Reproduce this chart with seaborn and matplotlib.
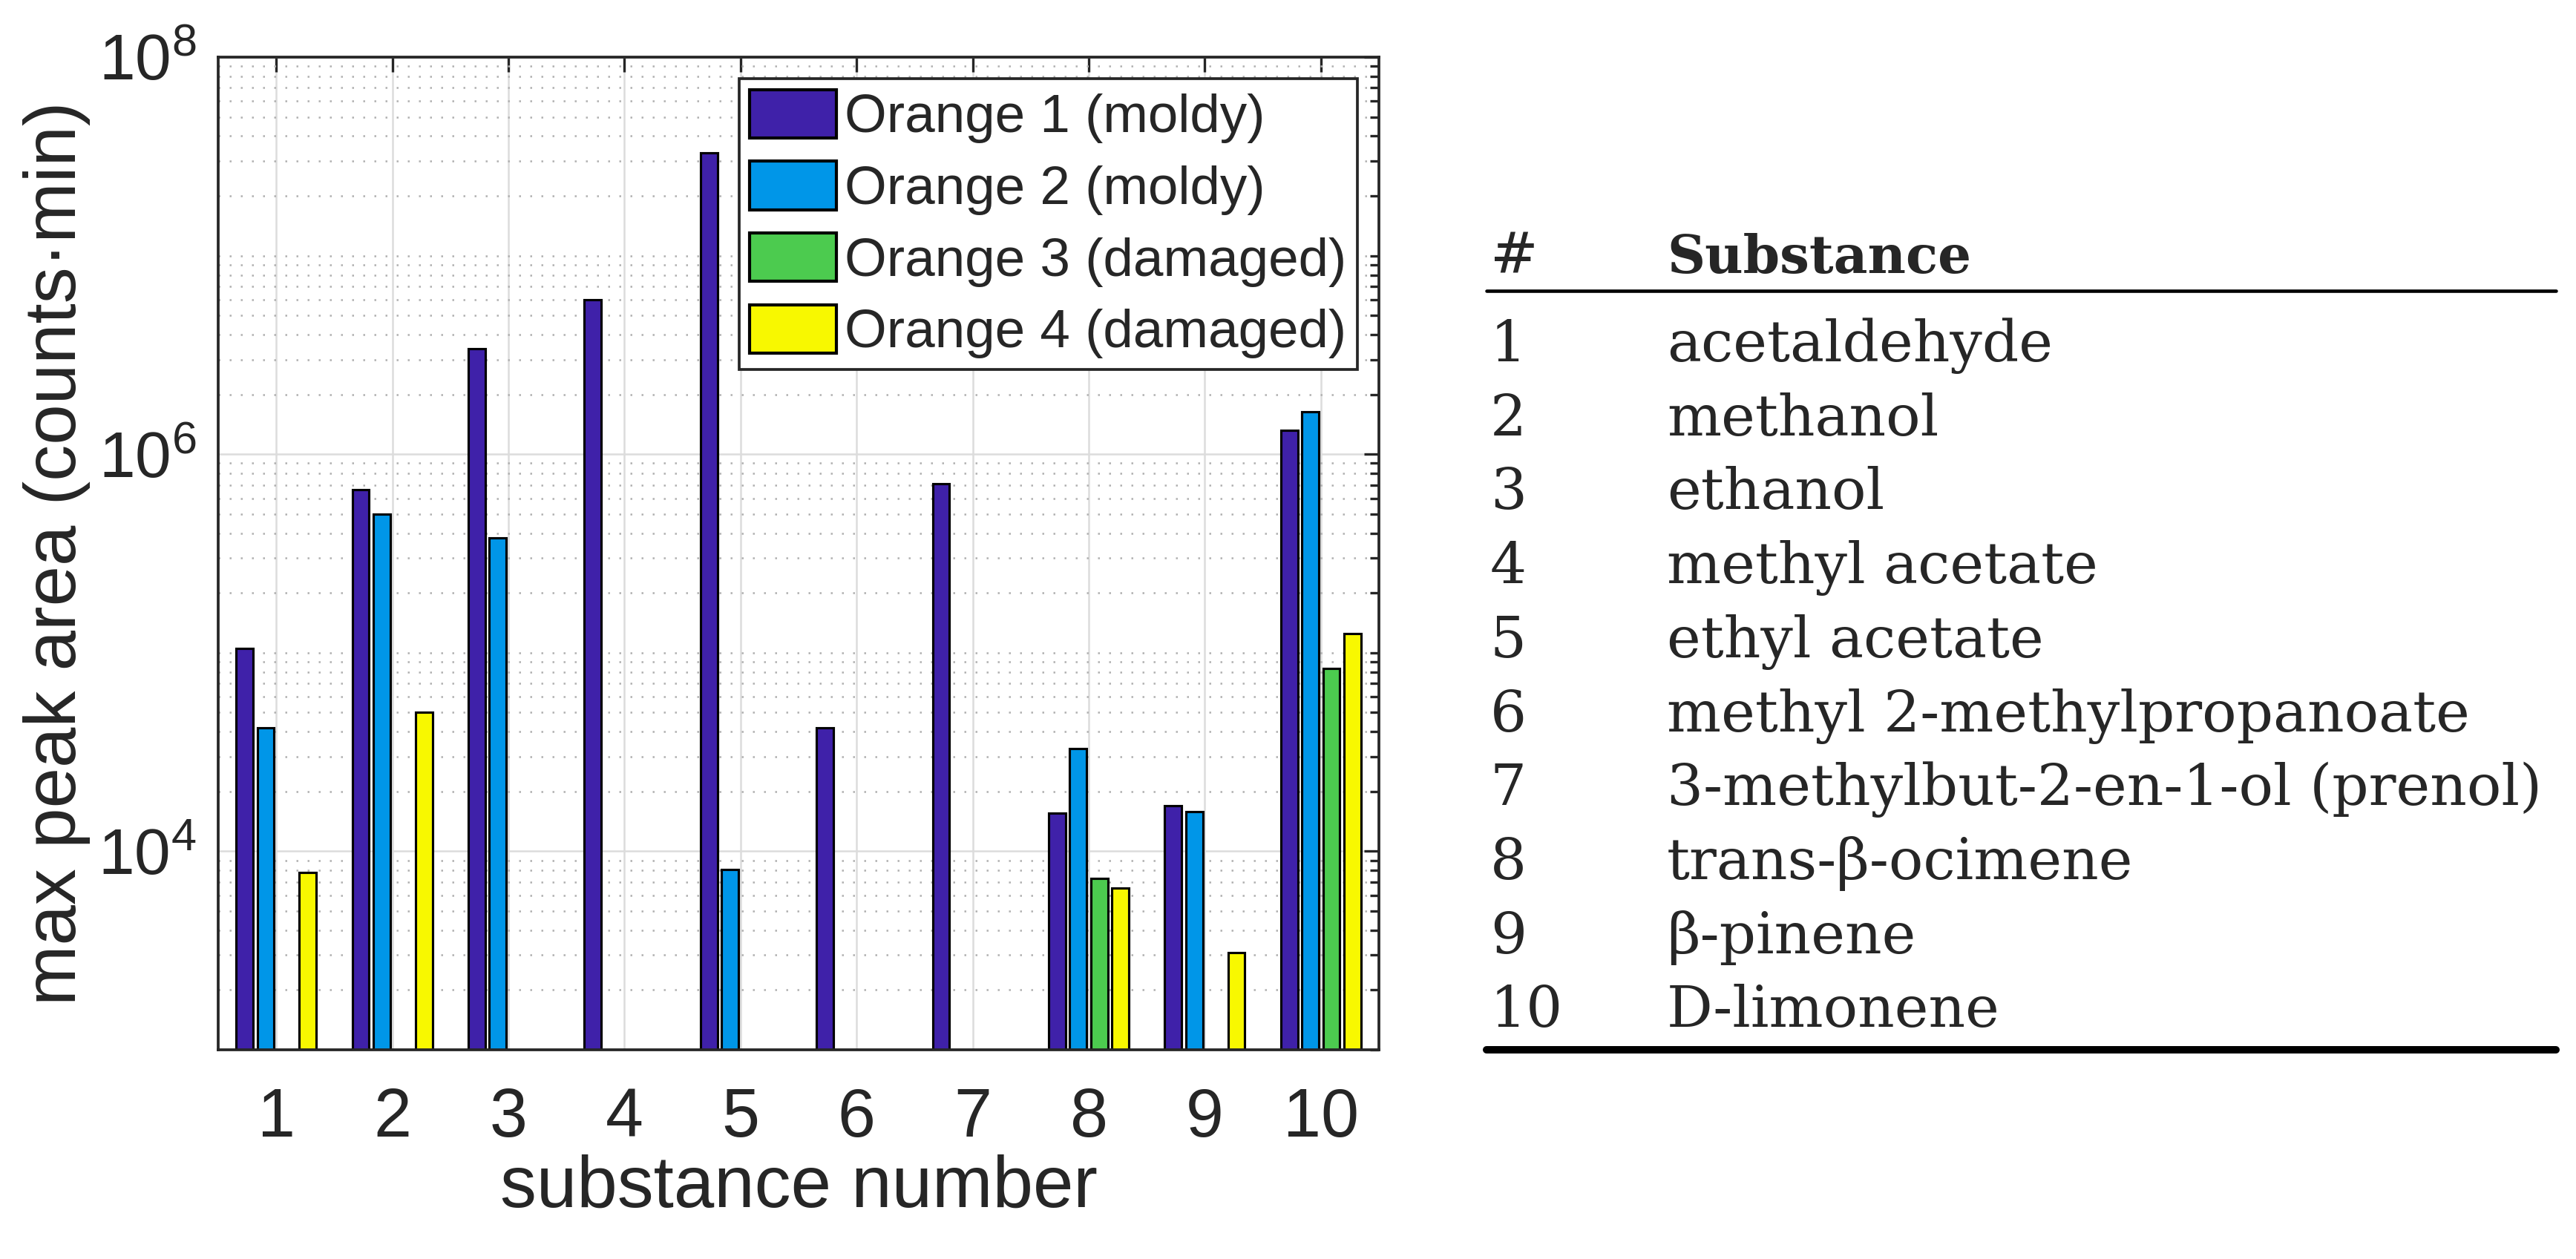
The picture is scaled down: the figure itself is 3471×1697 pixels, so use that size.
import numpy as np
import pandas as pd
import seaborn as sns
import matplotlib
matplotlib.use("Agg")
import matplotlib.pyplot as plt
from matplotlib.patches import Patch
from matplotlib.lines import Line2D
from matplotlib.ticker import FixedLocator, LogLocator, NullFormatter

# data
substance_numbers = ["1", "2", "3", "4", "5", "6", "7", "8", "9", "10"]
samples = ["Orange 1 (moldy)", "Orange 2 (moldy)",
           "Orange 3 (damaged)", "Orange 4 (damaged)"]
nan = np.nan
orange1 = [1.05e5, 6.6e5, 3.4e6, 6.0e6, 3.3e7, 4.2e4, 7.1e5, 1.55e4, 1.7e4, 1.32e6]
orange2 = [4.2e4, 5.0e5, 3.8e5, nan, 8.1e3, nan, nan, 3.3e4, 1.58e4, 1.63e6]
orange3 = [nan, nan, nan, nan, nan, nan, nan, 7.3e3, nan, 8.3e4]
orange4 = [7.8e3, 5.0e4, nan, nan, nan, nan, nan, 6.5e3, 3.1e3, 1.25e5]
substance_names = ["acetaldehyde", "methanol", "ethanol", "methyl acetate",
                   "ethyl acetate", "methyl 2-methylpropanoate",
                   "3-methylbut-2-en-1-ol (prenol)", "trans-\u03b2-ocimene",
                   "\u03b2-pinene", "D-limonene"]
bar_colors = ["#3F21A9", "#0096E8", "#4CCB4F", "#F8F800"]

rows = []
for name, vals in zip(samples, [orange1, orange2, orange3, orange4]):
    for sub, v in zip(substance_numbers, vals):
        rows.append({"substance": sub, "sample": name, "value": v})
df = pd.DataFrame(rows)

sns.set_theme(style="white")
plt.rcParams['font.family'] = ['Liberation Sans', 'DejaVu Sans']
plt.rcParams['mathtext.fontset'] = 'custom'
plt.rcParams['mathtext.rm'] = 'Liberation Sans'

W, H = 3471, 1697
fig = plt.figure(figsize=(W / 300, H / 300), dpi=300)
ax = fig.add_axes([294 / W, 1 - 1415 / H, (1858 - 294) / W, (1415 - 77) / H])

sns.barplot(data=df, x="substance", y="value", hue="sample",
            order=substance_numbers, hue_order=samples,
            palette=dict(zip(samples, bar_colors)), saturation=1,
            width=0.727, gap=0.2, edgecolor="black", linewidth=0.75,
            errorbar=None, legend=False, log_scale=True, ax=ax)

ax.set_yscale("log")
ax.set_ylim(1e3, 1e8)
ax.set_xlim(-0.5, 9.5)
ax.yaxis.set_major_locator(FixedLocator([1e4, 1e6, 1e8]))
ax.yaxis.set_minor_locator(LogLocator(base=10, subs=np.arange(1, 10), numticks=20))
ax.yaxis.set_minor_formatter(NullFormatter())

ax.set_axisbelow(True)
ax.grid(which="major", color="#DCDCDC", lw=0.6, ls="-")
ax.grid(which="minor", axis="y", color="#B0B0B0", lw=0.6, ls=(0, (1, 5)))

for sp in ax.spines.values():
    sp.set_color("#262626")
    sp.set_linewidth(0.9)

ax.tick_params(which="both", direction="in", top=True, right=True,
               color="#262626", width=0.8, labelcolor="#262626")
ax.tick_params(which="major", length=4.8)
ax.tick_params(which="minor", length=2.9)
ax.tick_params(axis="x", labelsize=22, pad=12)
ax.tick_params(axis="y", labelsize=21, pad=7)

ax.set_xlabel("substance number", fontsize=23.5, color="#262626", labelpad=1)
ax.set_ylabel("max peak area (counts\u00b7min)", fontsize=23.5,
              color="#262626", labelpad=2.5)

handles = [Patch(facecolor=c, edgecolor="black", linewidth=1.0) for c in bar_colors]
leg = ax.legend(handles, samples, loc="upper right", fontsize=17.5,
                handlelength=1.6, handleheight=1.0, handletextpad=0.15,
                labelspacing=0.33, borderpad=0.2, borderaxespad=0.4,
                fancybox=False, framealpha=1, edgecolor="#262626")
leg.get_frame().set_linewidth(0.9)

# table of substances on the right
x_num = 2008 / W
x_name = 2246 / W
tsize = 18.5
fig.text(x_num, 1 - 368 / H, "#", fontsize=tsize, family="DejaVu Serif",
         va="baseline", ha="left")
fig.text(x_name, 1 - 368 / H, "Substance", fontsize=17, family="DejaVu Serif",
         fontweight="bold", va="baseline", ha="left")
for i, (num, name) in enumerate(zip(substance_numbers, substance_names)):
    yb = 1 - (487 + 99.7 * i) / H
    fig.text(x_num, yb, num, fontsize=tsize, family="DejaVu Serif",
             va="baseline", ha="left")
    fig.text(x_name, yb, name, fontsize=tsize, family="DejaVu Serif",
             va="baseline", ha="left")
fig.add_artist(Line2D([2003 / W, 3444 / W], [1 - 392 / H] * 2, color="black", lw=1.1))
fig.add_artist(Line2D([2003 / W, 3444 / W], [1 - 1415 / H] * 2, color="black", lw=2.4))

fig.savefig("out.png", dpi=300, facecolor="white")
